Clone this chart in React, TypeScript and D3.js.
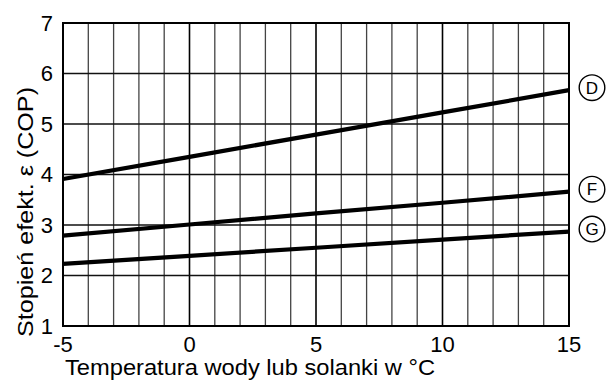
import React from "react";
import * as d3 from "d3";

const xTicks = [-5, 0, 5, 10, 15];
const yTicks = [1, 2, 3, 4, 5, 6, 7];
const xGrid = d3.range(-5, 16, 1);
const temps = [-5, 0, 5, 10, 15];
const seriesD = [3.91, 4.35, 4.79, 5.23, 5.67];
const seriesF = [2.79, 3.01, 3.23, 3.44, 3.66];
const seriesG = [2.23, 2.39, 2.55, 2.71, 2.87];
const seriesNames = ["D", "F", "G"];
const xTitle = "Temperatura wody lub solanki w °C";
const yTitle = "Stopień efekt. ε (COP)";

export default function App() {
  const W = 606, H = 382;
  const left = 63, right = 569, top = 23, bottom = 326;
  const x = d3.scaleLinear().domain([-5, 15]).range([left, right]);
  const y = d3.scaleLinear().domain([1, 7]).range([bottom, top]);
  const all = [seriesD, seriesF, seriesG];
  const line = d3.line<number>().x((_, i) => x(temps[i])).y((v) => y(v));
  const font = "'Liberation Sans', Arial, sans-serif";
  return (
    <svg width={W} height={H} style={{ position: "absolute", left: 0, top: 0, background: "#fff" }}>
      {xGrid.map((v) => (
        <line key={"vx" + v} x1={x(v)} x2={x(v)} y1={top} y2={bottom}
          stroke={v % 5 === 0 ? "#000" : "#444"} strokeWidth={v % 5 === 0 ? 1.6 : 1.3} />
      ))}
      {yTicks.map((v) => (
        <line key={"hy" + v} x1={left} x2={right} y1={y(v)} y2={y(v)} stroke="#111" strokeWidth={1.6} />
      ))}
      <rect x={left} y={top} width={right - left} height={bottom - top} fill="none" stroke="#000" strokeWidth={2} />
      {all.map((s, i) => (
        <path key={i} d={line(s) || ""} fill="none" stroke="#000" strokeWidth={4.2} />
      ))}
      {all.map((s, i) => (
        <g key={"lab" + i} transform={`translate(${592},${y(s[s.length - 1]) - 2.5})`}>
          <circle r={12.8} fill="#fff" stroke="#000" strokeWidth={1.4} />
          <text textAnchor="middle" dy="0.36em" fontFamily={font} fontSize={17}>{seriesNames[i]}</text>
        </g>
      ))}
      {yTicks.map((v) => (
        <text key={"yt" + v} x={53} y={y(v)} dy="0.36em" textAnchor="end" fontFamily={font} fontSize={22}>{v}</text>
      ))}
      {xTicks.map((v) => (
        <text key={"xt" + v} x={x(v)} y={352} textAnchor="middle" fontFamily={font} fontSize={22}>{v}</text>
      ))}
      <text x={65} y={375} fontFamily={font} fontSize={21.5} textLength={370} lengthAdjust="spacingAndGlyphs">{xTitle}</text>
      <text transform={`translate(33,212) rotate(-90)`} textAnchor="middle" fontFamily={font} fontSize={21.5}
        textLength={250} lengthAdjust="spacingAndGlyphs">{yTitle}</text>
    </svg>
  );
}
